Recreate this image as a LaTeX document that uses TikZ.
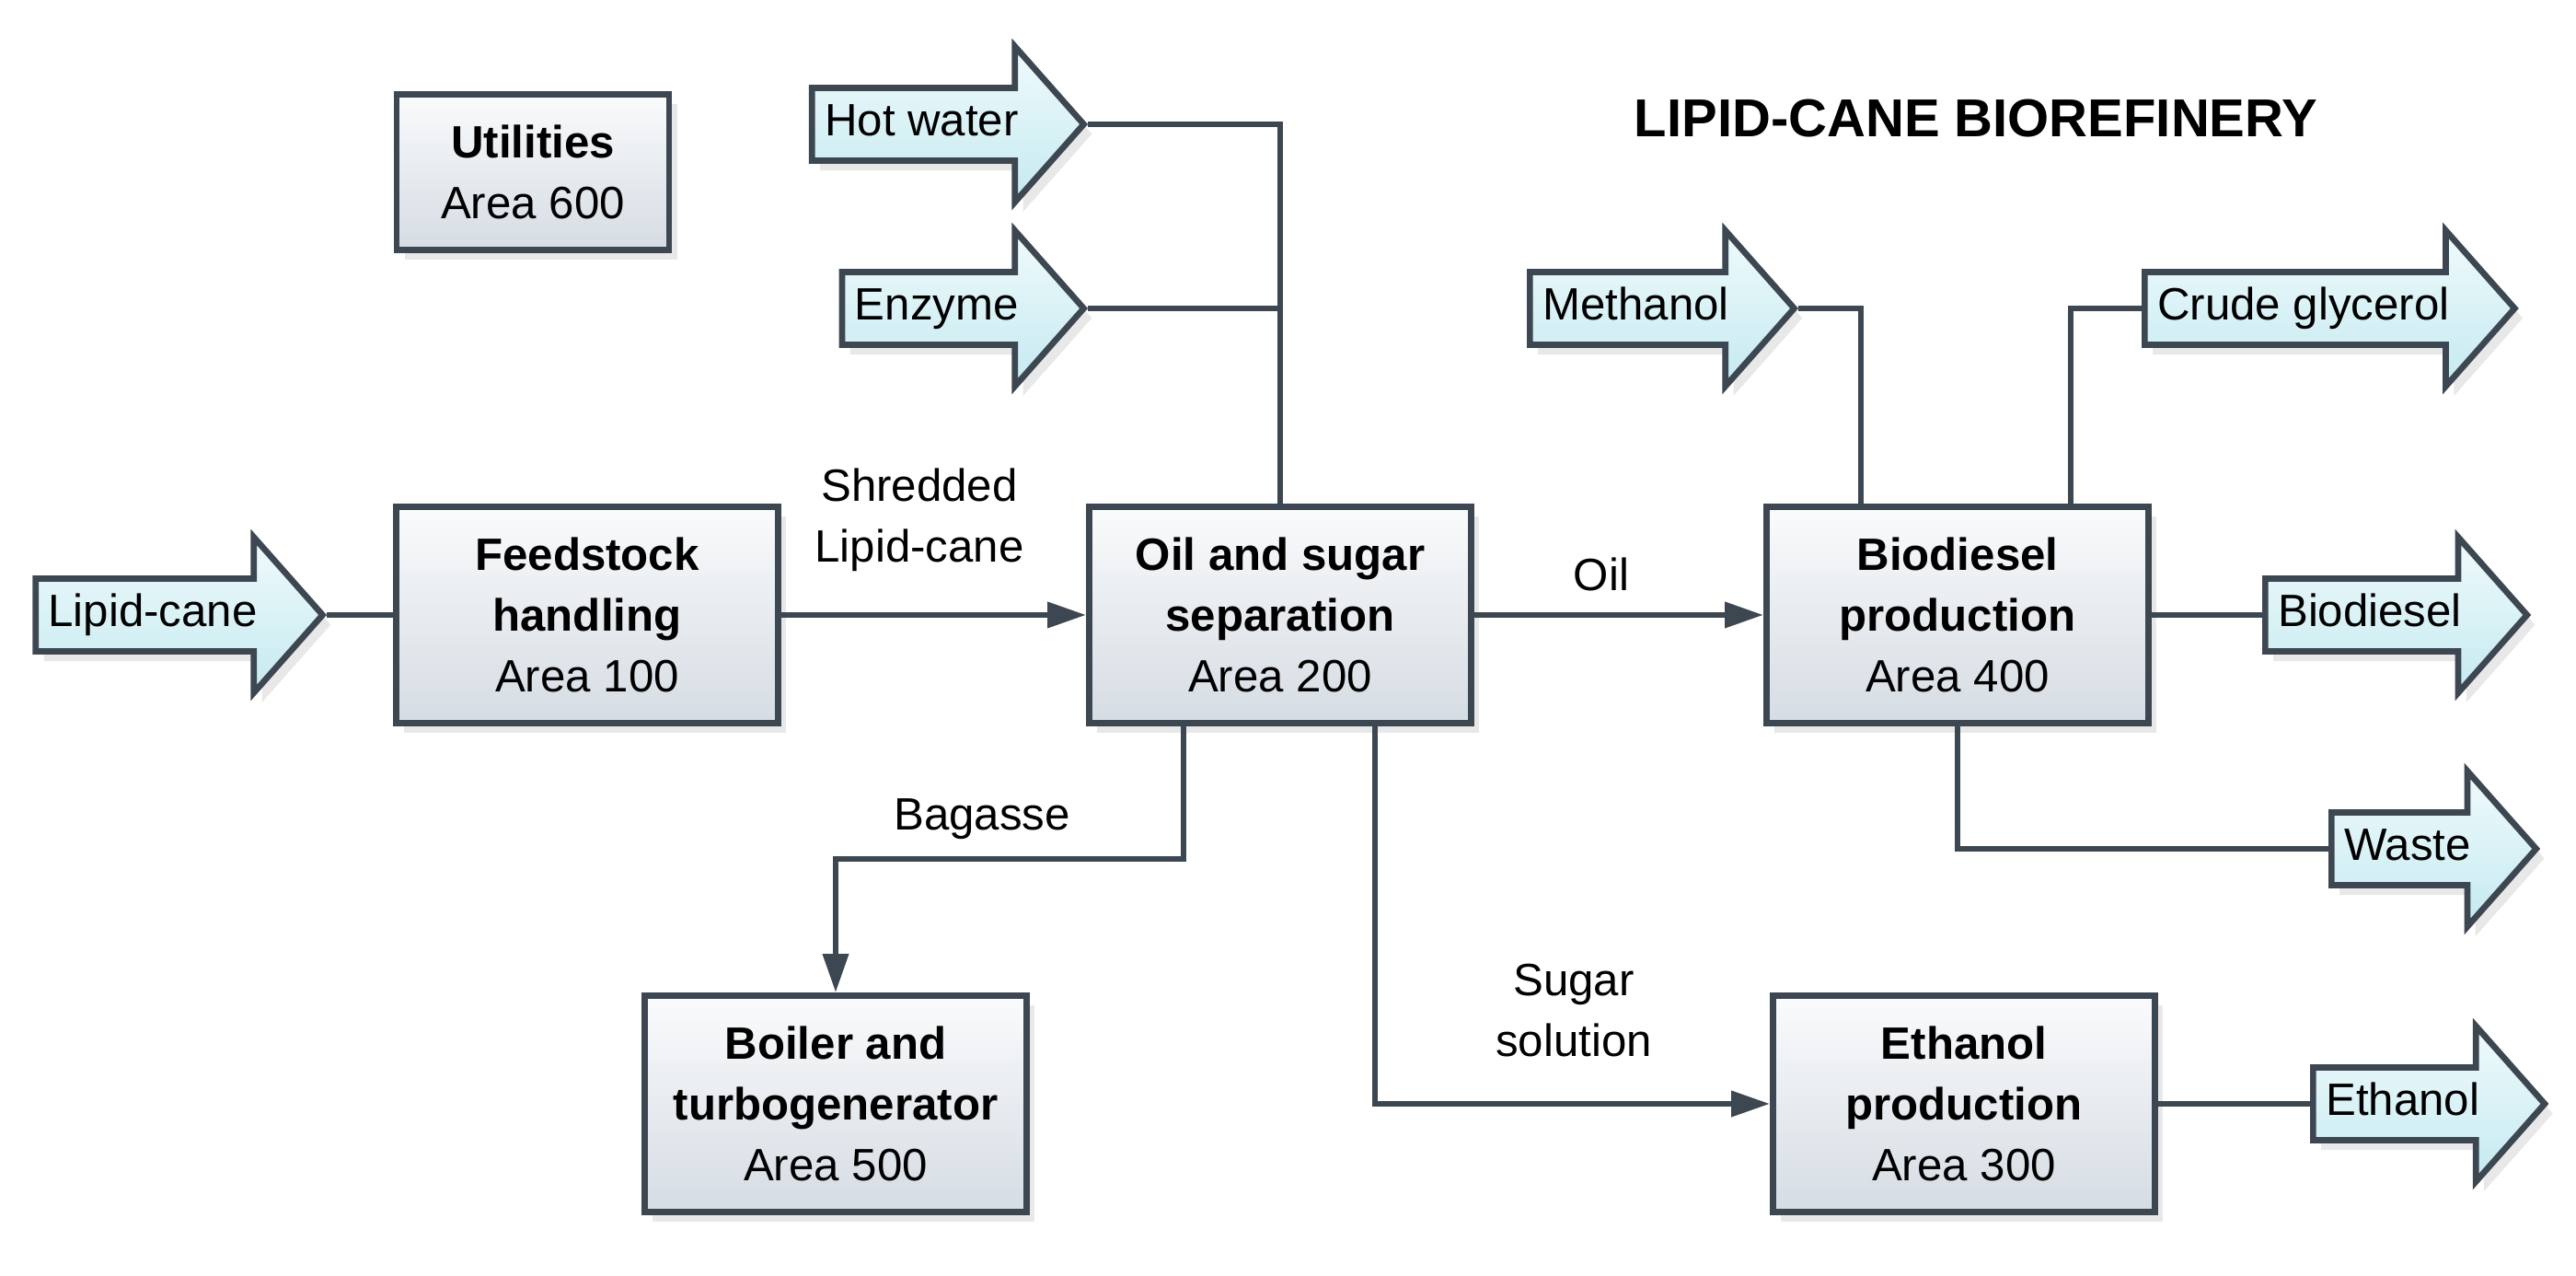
\documentclass[tikz,border=0pt]{standalone}
\usepackage{fontspec}
\setmainfont{Liberation Sans}
\usetikzlibrary{shapes.arrows,shadows,arrows.meta}

\definecolor{edge}{HTML}{3D4752}
\definecolor{boxtop}{HTML}{FAFBFC}
\definecolor{boxbot}{HTML}{D5DCE3}
\definecolor{streamtop}{HTML}{F0FAFC}
\definecolor{streambot}{HTML}{C4EAF0}

\tikzset{
  every node/.style={font=\fontsize{14}{18.8}\selectfont},
  softshadow/.style={drop shadow={shadow xshift=2.5pt,shadow yshift=-3pt,opacity=.18}},
  area/.style={draw=edge,line width=1.9pt,top color=boxtop,bottom color=boxbot,
    minimum width=4.15cm,minimum height=2.35cm,align=center,softshadow},
  stream/.style={single arrow,draw=edge,line width=1.9pt,top color=streamtop,bottom color=streambot,
    single arrow head extend=0.45cm,single arrow tip angle=97,inner xsep=3pt,inner ysep=3.7pt,
    text height=10.2pt,text depth=3pt,execute at end node={\hspace*{0.22cm}},softshadow},
  flow/.style={draw=edge,line width=1.9pt},
  feed/.style={flow,-{Triangle[length=0.42cm,width=0.27cm]}}
}

\begin{document}
\begin{tikzpicture}
  \useasboundingbox (0,0) rectangle (27.99,13.86);
  % process areas
  \node[area,minimum width=2.96cm,minimum height=1.69cm] (util) at (5.79,11.99) {\textbf{Utilities}\\Area 600};
  \node[area] (feedstock) at (6.38,7.18) {\textbf{Feedstock}\\\textbf{handling}\\Area 100};
  \node[area] (oil) at (13.91,7.18) {\textbf{Oil and sugar}\\\textbf{separation}\\Area 200};
  \node[area] (bio) at (21.27,7.18) {\textbf{Biodiesel}\\\textbf{production}\\Area 400};
  \node[area] (eth) at (21.34,1.87) {\textbf{Ethanol}\\\textbf{production}\\Area 300};
  \node[area] (boiler) at (9.08,1.87) {\textbf{Boiler and}\\\textbf{turbogenerator}\\Area 500};
  \node[font=\fontsize{16.5}{20}\selectfont\bfseries] (title) at (21.47,12.57) {LIPID-CANE BIOREFINERY};
  % inlet streams
  \node[stream,anchor=tip] (lipid) at (3.55,7.18) {Lipid-cane};
  \node[stream,anchor=tip] (hot) at (11.82,12.51) {Hot water};
  \node[stream,anchor=tip] (enz) at (11.82,10.51) {Enzyme};
  \node[stream,anchor=tip] (meoh) at (19.54,10.51) {Methanol};
  % outlet streams
  \node[stream,anchor=tail] (glyc) at (23.27,10.51) {Crude glycerol};
  \node[stream,anchor=tail] (biod) at (24.58,7.18) {Biodiesel};
  \node[stream,anchor=tail] (waste) at (25.30,4.64) {Waste};
  \node[stream,anchor=tail] (etoh) at (25.10,1.87) {Ethanol};
  % bends
  \coordinate (bag) at (12.86,4.53);
  \coordinate (sug) at (14.94,0);
  \coordinate (mbend) at (20.22,0);
  \coordinate (gbend) at (22.50,0);
  % connections
  \draw[flow] (lipid.tip) -- (feedstock.west);
  \draw[feed] (feedstock.east) -- (oil.west);
  \draw[flow] (hot.tip) -| (oil.north);
  \draw[flow] (enz.tip) -- (enz.tip -| oil.north);
  \draw[feed] (oil.east) -- (bio.west);
  \draw[feed] (oil.south -| bag) -- (bag) -| (boiler.north);
  \draw[feed] (oil.south -| sug) |- (eth.west);
  \draw[flow] (meoh.tip) -| (bio.north -| mbend);
  \draw[flow] (bio.north -| gbend) |- (glyc.tail);
  \draw[flow] (bio.east) -- (biod.tail);
  \draw[flow] (bio.south) |- (waste.tail);
  \draw[flow] (eth.east) -- (etoh.tail);
  % stream labels
  \node[align=center] (shred) at (9.99,8.21) {Shredded\\Lipid-cane};
  \node (oillab) at (17.40,7.62) {Oil};
  \node (baglab) at (10.67,4.96) {Bagasse};
  \node[align=center] (suglab) at (17.10,2.88) {Sugar\\solution};
\end{tikzpicture}
\end{document}
